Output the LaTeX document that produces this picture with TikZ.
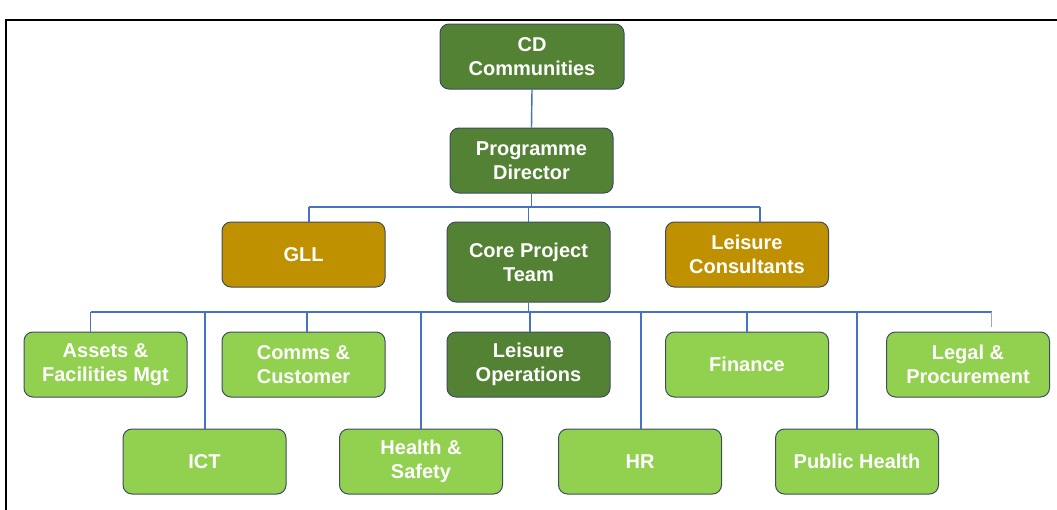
\documentclass[tikz,border=0pt]{standalone}
\usepackage{fontspec}
\setmainfont{Liberation Sans}
\definecolor{darkgreen}{HTML}{548235}
\definecolor{goldbox}{HTML}{BF9000}
\definecolor{lightgreen}{HTML}{92D050}
\definecolor{boxedge}{HTML}{3E4C5E}
\definecolor{linkblue}{HTML}{4472C4}
\begin{document}
\begin{tikzpicture}[x=1pt,y=-1pt,
  box/.style={draw=boxedge, line width=1pt, rounded corners=9pt,
    minimum width=163pt, minimum height=65pt, inner sep=0pt,
    text=white, align=center, font=\bfseries\fontsize{20}{24}\selectfont},
  dark/.style={box, fill=darkgreen},
  gold/.style={box, fill=goldbox},
  light/.style={box, fill=lightgreen},
  link/.style={draw=linkblue, line width=1.4pt}]
\useasboundingbox (0,0) rectangle (1057,509);
% outer frame
\draw[line width=2pt] (6,515) -- (6,20) -- (1065,20);

% top levels
\node[dark, minimum width=184pt] (cd) at (532,56.5) {CD\\Communities};
\node[dark] (pd) at (531.5,160.5) {Programme\\Director};
\node[gold] (gll) at (303.5,254.5) {GLL};
\node[dark, minimum height=80pt] (core) at (528.5,262) {Core Project\\Team};
\node[gold] (lc) at (747,254.5) {Leisure\\Consultants};

% workstreams, upper row
\node[light] (assets) at (105.5,364.5) {Assets \&\\Facilities Mgt};
\node[light] (comms) at (303.5,364.5) {Comms \&\\Customer};
\node[dark] (lops) at (528.5,364.5) {Leisure\\Operations};
\node[light] (fin) at (747,364.5) {Finance};
\node[light] (legal) at (968,364.5) {Legal \&\\Procurement};
% workstreams, lower row
\node[light] (ict) at (204.5,461.5) {ICT};
\node[light] (hs) at (421,461.5) {Health \&\\Safety};
\node[light] (hr) at (640,461.5) {HR};
\node[light] (ph) at (857,461.5) {Public Health};

% connectors
\draw[link] (cd.south) -- (pd.north);
\coordinate (busA) at (529,207);
\coordinate (busAl) at (309,207);
\coordinate (busAr) at (760,207);
\draw[link] (pd.south) -- (pd.south |- busA);
\draw[link] (busAl) -- (busAr);
\draw[link] (busAl) -- (busAl |- gll.north);
\draw[link] (core.north |- busA) -- (core.north);
\draw[link] (busAr) -- (busAr |- lc.north);

\coordinate (busBl) at (90.5,312);
\coordinate (busBr) at (991.5,312);
\draw[link] (core.south) -- (core.south |- busBl);
\draw[link] (busBl) -- (busBr);
\draw[link] (busBl) -- (busBl |- assets.north);
\draw[link] (205,312) -- (205,312 |- ict.north);
\draw[link] (307,312) -- (307,312 |- comms.north);
\draw[link] (421,312) -- (hs.north);
\draw[link] (530,312) -- (530,312 |- lops.north);
\draw[link] (641,312) -- (641,312 |- hr.north);
\draw[link] (fin.north |- busBl) -- (fin.north);
\draw[link] (857,312) -- (ph.north);
\draw[link, draw=linkblue!60] (busBr) -- ++(0,15);
\end{tikzpicture}
\end{document}
